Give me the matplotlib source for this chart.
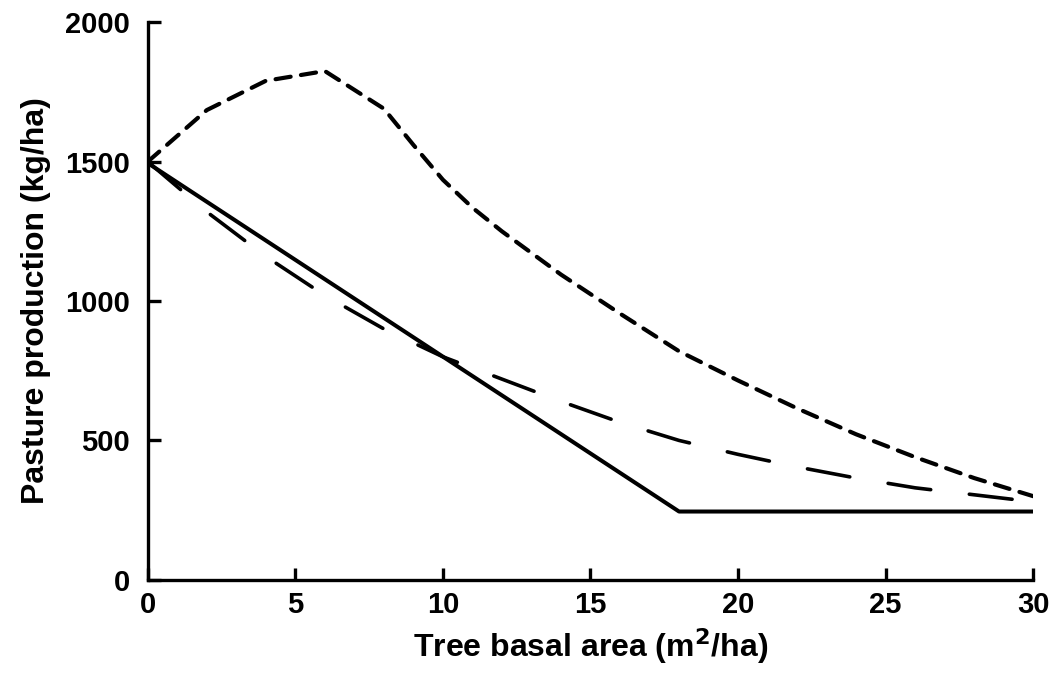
import matplotlib
matplotlib.use("Agg")
import matplotlib.pyplot as plt

plt.rcParams['font.family'] = ['Liberation Sans', 'DejaVu Sans']
plt.rcParams['lines.scale_dashes'] = False

# Data
basal_area_short = [0, 2, 4, 6, 8, 9, 10, 11, 12, 14, 16, 18, 20, 22, 24, 26, 28, 30]
pasture_short = [1500, 1685, 1790, 1825, 1690, 1560, 1435, 1335, 1250, 1095, 955, 820, 715, 615, 522, 440, 365, 300]

basal_area_long = [0, 2, 4, 6, 8, 10, 12, 14, 16, 18, 20, 22, 24, 26, 28, 29.6]
pasture_long = [1500, 1320, 1160, 1020, 900, 800, 720, 640, 565, 500, 450, 405, 365, 330, 305, 285]

basal_area_solid = [0, 18, 30]
pasture_solid = [1495, 245, 245]

x_ticks = [0, 5, 10, 15, 20, 25, 30]
y_ticks = [0, 500, 1000, 1500, 2000]

fig = plt.figure(figsize=(10.63, 6.75), dpi=100)
ax = fig.add_axes([0.139, 0.141, 0.833, 0.826])

ax.plot(basal_area_short, pasture_short, color='black', lw=3.0,
        dashes=(11, 7.5), dash_capstyle='round')
ax.plot(basal_area_long, pasture_long, color='black', lw=2.6,
        dashes=(31, 28), dash_capstyle='round')
ax.plot(basal_area_solid, pasture_solid, color='black', lw=2.9,
        solid_capstyle='butt')

ax.set_xlim(0, 30)
ax.set_ylim(0, 2000)
ax.set_xticks(x_ticks)
ax.set_yticks(y_ticks)

for side in ['top', 'right']:
    ax.spines[side].set_visible(False)
for side in ['left', 'bottom']:
    ax.spines[side].set_linewidth(2.4)

ax.tick_params(direction='in', length=9, width=2.4, labelsize=21)
ax.tick_params(axis='x', pad=8)
ax.tick_params(axis='y', pad=13)
for lab in ax.get_xticklabels() + ax.get_yticklabels():
    lab.set_fontweight('bold')

ax.set_xlabel('Tree basal area (m$^{\\mathbf{2}}$/ha)', fontsize=23, fontweight='bold', labelpad=5)
ax.set_ylabel('Pasture production (kg/ha)', fontsize=23, fontweight='bold', labelpad=10)

fig.savefig('out.png', dpi=100)
